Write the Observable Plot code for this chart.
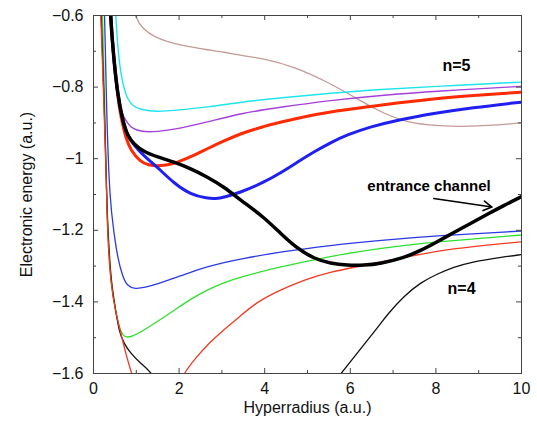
<!DOCTYPE html>
<html><head><meta charset="utf-8">
<script src="https://cdn.jsdelivr.net/npm/d3@7"></script>
<script src="https://cdn.jsdelivr.net/npm/@observablehq/plot@0.6"></script>
<style>
html,body{margin:0;padding:0;background:#fff;}
#chart svg{display:block;}
</style></head><body><div id="chart"></div>
<script>
// Axis ticks
const xTicks = [0, 2, 4, 6, 8, 10];
const xMinorTicks = [1, 3, 5, 7, 9];
const yTicks = [-1.6, -1.4, -1.2, -1, -0.8, -0.6];
const yMinorTicks = [-1.5, -1.3, -1.1, -0.9, -0.7];

// n=5 manifold (thin)
const brown5 = [[0.93,-0.58],[0.99,-0.603],[1.10,-0.633],[1.49,-0.665],[1.88,-0.679],[2.27,-0.688],[2.66,-0.696],[3.05,-0.702],[3.44,-0.712],[3.98,-0.720],[4.69,-0.743],[5.46,-0.785],[6.08,-0.827],[6.63,-0.865],[7.17,-0.893],[7.79,-0.907],[8.73,-0.912],[10,-0.900]];
const cyan5 = [[0.51,-0.58],[0.52,-0.6],[0.56,-0.679],[0.64,-0.772],[0.79,-0.837],[0.94,-0.854],[1.10,-0.863],[1.49,-0.869],[1.88,-0.865],[2.66,-0.856],[3.44,-0.842],[4.37,-0.830],[5.54,-0.817],[6.70,-0.806],[8.03,-0.798],[10,-0.786]];
const purple5 = [[0.41,-0.57],[0.42,-0.6],[0.46,-0.70],[0.52,-0.79],[0.58,-0.84],[0.64,-0.868],[0.79,-0.902],[0.94,-0.918],[1.10,-0.923],[1.34,-0.926],[1.88,-0.919],[2.66,-0.898],[3.44,-0.873],[4.37,-0.856],[5.54,-0.837],[6.70,-0.823],[8.03,-0.811],[10,-0.798]];
// thick curves
const red5 = [[0.39,-0.57],[0.40,-0.6],[0.44,-0.67],[0.48,-0.726],[0.56,-0.818],[0.62,-0.870],[0.68,-0.904],[0.75,-0.940],[0.87,-0.977],[1.10,-1.009],[1.29,-1.018],[1.49,-1.021],[1.70,-1.018],[1.88,-1.014],[2.27,-0.995],[2.66,-0.972],[3.05,-0.950],[3.44,-0.930],[3.91,-0.912],[4.37,-0.898],[4.95,-0.882],[5.46,-0.870],[6.47,-0.854],[7.02,-0.845],[8.03,-0.832],[8.81,-0.824],[10,-0.814]];
const blue5 = [[0.39,-0.57],[0.40,-0.6],[0.44,-0.67],[0.48,-0.726],[0.56,-0.818],[0.68,-0.893],[0.79,-0.935],[0.95,-0.963],[1.18,-0.993],[1.49,-1.023],[1.88,-1.069],[2.27,-1.100],[2.66,-1.111],[2.85,-1.112],[3.05,-1.108],[3.44,-1.094],[3.98,-1.066],[4.37,-1.040],[4.76,-1.010],[5.15,-0.981],[5.54,-0.955],[5.93,-0.933],[6.47,-0.911],[7.02,-0.894],[8.03,-0.872],[8.81,-0.858],[10,-0.842]];
const entrance = [[0.39,-0.57],[0.40,-0.6],[0.44,-0.67],[0.48,-0.726],[0.56,-0.818],[0.68,-0.893],[0.79,-0.935],[0.95,-0.960],[1.18,-0.981],[1.49,-0.995],[1.88,-1.009],[2.27,-1.028],[2.66,-1.051],[3.05,-1.079],[3.44,-1.116],[3.98,-1.163],[4.37,-1.209],[4.76,-1.251],[5.15,-1.279],[5.54,-1.293],[5.93,-1.298],[6.32,-1.298],[6.70,-1.293],[7.25,-1.277],[7.64,-1.257],[8.03,-1.232],[8.42,-1.206],[8.81,-1.181],[9.19,-1.156],[9.58,-1.131],[10,-1.106]];

// n=4 manifold (thin)
const blue4 = [[0.25,-0.57],[0.26,-0.6],[0.31,-0.893],[0.38,-1.116],[0.48,-1.209],[0.56,-1.274],[0.68,-1.330],[0.79,-1.356],[0.97,-1.364],[1.2,-1.360],[1.49,-1.350],[1.88,-1.334],[2.27,-1.317],[2.66,-1.302],[3.05,-1.290],[3.44,-1.280],[4.37,-1.260],[5.54,-1.242],[6.70,-1.228],[8.03,-1.215],[10,-1.202]];
const green4 = [[0.20,-0.57],[0.21,-0.6],[0.26,-0.837],[0.31,-1.116],[0.33,-1.208],[0.40,-1.348],[0.52,-1.431],[0.62,-1.478],[0.70,-1.496],[0.79,-1.499],[0.90,-1.496],[1.10,-1.485],[1.49,-1.455],[1.88,-1.424],[2.27,-1.392],[2.66,-1.366],[3.05,-1.346],[3.44,-1.330],[4.37,-1.302],[5.54,-1.272],[6.70,-1.250],[8.03,-1.232],[10,-1.213]];
const red4 = [[0.16,-0.57],[0.17,-0.6],[0.24,-0.837],[0.29,-1.02],[0.31,-1.116],[0.33,-1.208],[0.40,-1.348],[0.52,-1.431],[0.64,-1.487],[0.75,-1.543],[0.89,-1.6],[1.1,-1.68],[1.5,-1.72],[1.9,-1.66],[2.1,-1.6],[2.4,-1.555],[2.7,-1.515],[3.0,-1.482],[3.4,-1.443],[3.79,-1.402],[4.37,-1.366],[4.95,-1.337],[5.54,-1.316],[6.24,-1.300],[7.25,-1.276],[8.03,-1.258],[8.81,-1.246],[10,-1.232]];
const black4 = [[0.17,-0.57],[0.18,-0.6],[0.25,-0.837],[0.31,-1.116],[0.34,-1.208],[0.41,-1.348],[0.53,-1.431],[0.60,-1.483],[0.71,-1.516],[0.87,-1.544],[1.10,-1.572],[1.40,-1.6],[2,-1.72],[3,-1.82],[4,-1.82],[5,-1.72],[5.78,-1.6],[6.47,-1.497],[6.70,-1.462],[6.86,-1.436],[7.25,-1.384],[7.64,-1.346],[8.03,-1.322],[8.42,-1.303],[8.81,-1.289],[9.58,-1.274],[10,-1.268]];

// annotations
const manifoldLabels = [{text: "n=5", x: 8.48, y: -0.742}, {text: "n=4", x: 8.6, y: -1.364}];
const channelLabel = [{text: "entrance channel", x: 7.84, y: -1.077}];
const channelArrow = [{x1: 7.95, y1: -1.111, x2: 9.31, y2: -1.135}];

const px = d => d[0], py = d => d[1];
const line = (data, stroke, strokeWidth) =>
  Plot.line(data, {x: px, y: py, stroke, strokeWidth, curve: "basis", clip: true, strokeLinejoin: "round"});

const frameW = 537 - 93 - 16, frameH = 422 - 15 - 49;
const fmt = d => (d < 0 ? "\u2212" : "") + Math.abs(d);
const tickColor = "#444";

const chart = Plot.plot({
  width: 537, height: 422,
  marginLeft: 93, marginRight: 16, marginTop: 15, marginBottom: 49,
  style: {fontFamily: "'Liberation Sans', Arial, sans-serif", fontSize: "16px", color: "#111", background: "#fff"},
  x: {domain: [0, 10]},
  y: {domain: [-1.6, -0.6]},
  marks: [
    line(brown5, "#c49a98", 1.3),
    line(cyan5, "#1ee4ee", 1.4),
    line(purple5, "#a33fdb", 1.4),
    line(blue4, "#2a3ae0", 1.3),
    line(green4, "#2ee02e", 1.3),
    line(black4, "#111", 1.3),
    line(red4, "#f03a22", 1.3),
    line(red5, "#ff2a00", 3),
    line(blue5, "#1f1ff2", 3),
    line(entrance, "#000", 3.5),
    Plot.frame({stroke: tickColor}),
    // inward ticks on all four sides
    Plot.ruleX(xTicks, {x: d => d, insetTop: frameH - 5, stroke: tickColor}),
    Plot.ruleX(xMinorTicks, {x: d => d, insetTop: frameH - 3, stroke: tickColor}),
    Plot.ruleX(xTicks, {x: d => d, insetBottom: frameH - 5, stroke: tickColor}),
    Plot.ruleX(xMinorTicks, {x: d => d, insetBottom: frameH - 3, stroke: tickColor}),
    Plot.ruleY(yTicks, {y: d => d, insetRight: frameW - 5, stroke: tickColor}),
    Plot.ruleY(yMinorTicks, {y: d => d, insetRight: frameW - 3, stroke: tickColor}),
    Plot.ruleY(yTicks, {y: d => d, insetLeft: frameW - 5, stroke: tickColor}),
    Plot.ruleY(yMinorTicks, {y: d => d, insetLeft: frameW - 3, stroke: tickColor}),
    // labels
    Plot.axisX(xTicks, {anchor: "bottom", tickSize: 0, tickPadding: 9, fontSize: 16, label: "Hyperradius (a.u.)", labelAnchor: "center", labelOffset: 39, labelArrow: "none"}),
    Plot.axisY(yTicks, {anchor: "left", tickSize: 0, tickPadding: 10, fontSize: 16, tickFormat: fmt, label: "Electronic energy (a.u.)", labelAnchor: "center", labelOffset: 73, labelArrow: "none"}),
    Plot.text(manifoldLabels, {x: "x", y: "y", text: "text", fontSize: 16, fontWeight: "bold", fill: "#000"}),
    Plot.text(channelLabel, {x: "x", y: "y", text: "text", fontSize: 15, fontWeight: "bold", fill: "#000"}),
    Plot.arrow(channelArrow, {x1: "x1", y1: "y1", x2: "x2", y2: "y2", stroke: "#000", strokeWidth: 1.6, headLength: 9})
  ]
});
document.getElementById("chart").append(chart);
</script>
</body></html>
